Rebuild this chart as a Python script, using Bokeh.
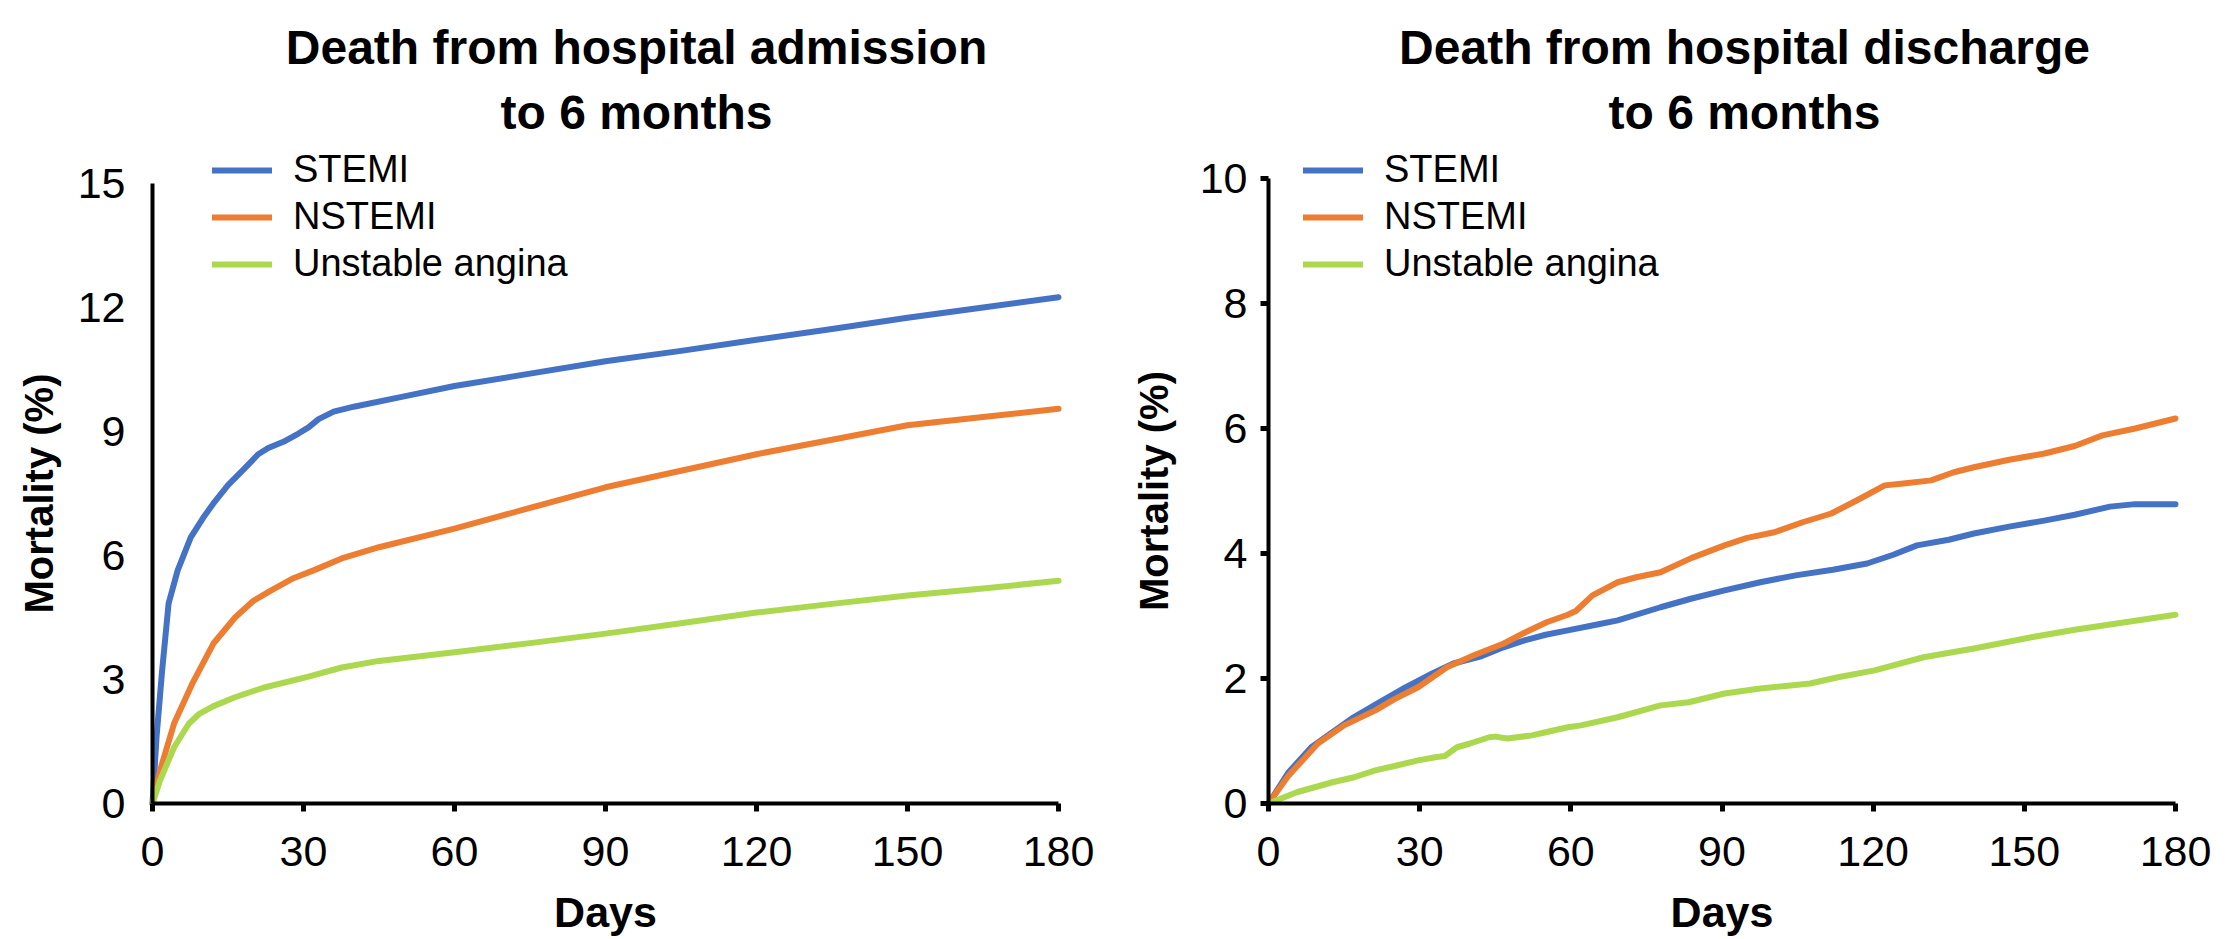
from bokeh.plotting import figure
from bokeh.models import Range1d, Legend, LegendItem, Label, FixedTicker
from bokeh.layouts import row
from bokeh.embed import file_html
from bokeh.resources import INLINE

# ---------------- data ----------------
titles_left = ["Death from hospital admission", "to 6 months"]
titles_right = ["Death from hospital discharge", "to 6 months"]
series_names = ["STEMI", "NSTEMI", "Unstable angina"]
colors = ["#4472C4", "#ED7D31", "#ACD84F"]

x_ticks = [0, 30, 60, 90, 120, 150, 180]
y_ticks_left = [0, 3, 6, 9, 12, 15]
y_ticks_right = [0, 2, 4, 6, 8, 10]

# Admission -> 6 months
adm_stemi_days = [0, 0.8, 1.9, 3.2, 5, 7.6, 10, 12.1, 15, 18.5, 21, 23, 26, 29, 31, 33, 36, 40,
                  50, 60, 75, 90, 105, 120, 135, 150, 165, 180]
adm_stemi_vals = [0, 1.6, 3.2, 4.84, 5.64, 6.44, 6.9, 7.26, 7.7, 8.13, 8.45, 8.6, 8.75, 8.95, 9.1,
                  9.3, 9.48, 9.6, 9.85, 10.1, 10.4, 10.7, 10.95, 11.22, 11.48, 11.75, 12.0, 12.25]

adm_nstemi_days = [0, 1.5, 4.3, 7.9, 12.1, 16.4, 20, 23.5, 28, 32, 37.6, 45, 60, 75, 90, 105,
                   120, 135, 150, 165, 180]
adm_nstemi_vals = [0, 0.8, 1.94, 2.9, 3.87, 4.5, 4.9, 5.15, 5.45, 5.64, 5.93, 6.2, 6.65, 7.15,
                   7.65, 8.05, 8.45, 8.8, 9.15, 9.35, 9.55]

adm_ua_days = [0, 1.5, 4.3, 7.2, 9.3, 12, 16.4, 22, 31, 37.6, 45, 60, 75, 90, 105, 120, 135,
               150, 165, 180]
adm_ua_vals = [0, 0.56, 1.36, 1.93, 2.17, 2.35, 2.57, 2.8, 3.07, 3.29, 3.45, 3.66, 3.88, 4.11,
               4.36, 4.62, 4.83, 5.03, 5.2, 5.39]

# Discharge -> 6 months
dis_stemi_days = [0, 4, 8.5, 12, 16.9, 22, 27, 32.5, 36.7, 42, 46, 50.8, 55, 59.4, 65, 69.3,
                  77.8, 84, 90.5, 97.6, 104.6, 112, 118.8, 124, 128.7, 135, 140, 147, 154.2,
                  160, 167, 172, 180]
dis_stemi_vals = [0, 0.5, 0.9, 1.1, 1.38, 1.62, 1.85, 2.08, 2.24, 2.35, 2.48, 2.61, 2.7, 2.77,
                  2.86, 2.93, 3.14, 3.28, 3.41, 3.54, 3.65, 3.74, 3.84, 3.98, 4.13, 4.22, 4.32,
                  4.43, 4.53, 4.62, 4.75, 4.79, 4.79]

dis_nstemi_days = [0, 4, 9.8, 15, 21.2, 25, 29.7, 35.4, 41, 46.7, 51, 55.2, 59.4, 61, 64.3,
                   69.3, 73, 77.8, 84, 90.5, 95, 100.4, 106, 111.7, 117, 122.3, 126, 131.5,
                   136, 140, 147, 154, 160, 165.5, 172, 180]
dis_nstemi_vals = [0, 0.45, 0.96, 1.25, 1.49, 1.67, 1.86, 2.18, 2.38, 2.56, 2.74, 2.9, 3.02,
                   3.08, 3.33, 3.54, 3.62, 3.70, 3.93, 4.13, 4.25, 4.34, 4.5, 4.64, 4.86, 5.09,
                   5.12, 5.17, 5.3, 5.38, 5.5, 5.6, 5.72, 5.89, 6.0, 6.16]

dis_ua_days = [0, 5.6, 12.7, 17, 21.2, 25, 29.7, 33.1, 35, 37.4, 40, 43.8, 45, 47.4, 52.3, 55,
               59.4, 62, 69.3, 77.8, 83.4, 90.5, 97.6, 107.5, 113, 120.3, 130, 140, 151.4, 160,
               170, 180]
dis_ua_vals = [0, 0.18, 0.34, 0.42, 0.53, 0.6, 0.69, 0.74, 0.76, 0.9, 0.96, 1.06, 1.07, 1.04,
               1.09, 1.14, 1.22, 1.25, 1.38, 1.57, 1.62, 1.76, 1.84, 1.92, 2.02, 2.13, 2.34,
               2.48, 2.66, 2.78, 2.9, 3.02]

FONT = "Liberation Sans"
W, H = 1118, 939


def make_panel(series, ymax, yticks, titles, ax_left, ax_right, ax_top, ax_bottom,
               y_ticks_out, ytick_standoff, ylab_standoff, legend_x, title_x):
    # The frame fills the whole canvas; axes sit at fixed data locations with bounds,
    # so that titles and legend (annotations) are not clipped.
    xs = 180.0 / (ax_right - ax_left)          # days per pixel
    ys = ymax / float(ax_bottom - ax_top)      # units per pixel
    x_range = Range1d(-ax_left * xs, 180 + (W - ax_right) * xs)
    y_range = Range1d(-(H - ax_bottom) * ys, ymax + ax_top * ys)

    p = figure(width=W, height=H, output_backend="svg", toolbar_location=None,
               x_range=x_range, y_range=y_range,
               min_border_left=0, min_border_right=0, min_border_top=0, min_border_bottom=0)
    p.outline_line_color = None
    p.xgrid.visible = False
    p.ygrid.visible = False
    p.background_fill_color = "white"
    p.border_fill_color = "white"

    items = []
    for (dx, dy), name, col in zip(series, series_names, colors):
        r = p.line(dx, dy, line_color=col, line_width=6, line_join="round", line_cap="round")
        items.append(LegendItem(label=name, renderers=[r]))

    legend = Legend(items=items, location=(legend_x, 652), orientation="vertical",
                    background_fill_alpha=0, border_line_color=None, padding=0, margin=0,
                    spacing=0, label_height=47, glyph_height=20, glyph_width=60,
                    label_standoff=21, label_text_font=FONT, label_text_font_size="38px",
                    label_text_color="black")
    p.add_layout(legend, "center")

    # axes
    p.xaxis.ticker = FixedTicker(ticks=x_ticks)
    p.yaxis.ticker = FixedTicker(ticks=yticks)
    p.xaxis.bounds = (0, 180)
    p.yaxis.bounds = (0, ymax)
    p.xaxis.fixed_location = 0
    p.yaxis.fixed_location = 0
    for ax in (p.xaxis, p.yaxis):
        ax.axis_line_width = 4
        ax.axis_line_color = "black"
        ax.major_tick_line_width = 5
        ax.major_tick_line_color = "black"
        ax.major_tick_in = 0
        ax.minor_tick_line_color = None
        ax.major_label_text_font = FONT
        ax.major_label_text_font_size = "43px"
        ax.major_label_text_color = "black"
        ax.axis_label_text_font = FONT
        ax.axis_label_text_font_style = "bold"
        ax.axis_label_text_color = "black"
    p.xaxis.major_tick_out = 8
    p.xaxis.major_label_standoff = 25
    p.xaxis.axis_label = "Days"
    p.xaxis.axis_label_text_font_size = "43px"
    p.xaxis.axis_label_standoff = 19
    p.yaxis.major_tick_out = y_ticks_out
    if y_ticks_out == 0:
        p.yaxis.major_tick_line_color = None
    p.yaxis.major_label_standoff = ytick_standoff
    p.yaxis.axis_label = "Mortality (%)"
    p.yaxis.axis_label_text_font_size = "40px"
    p.yaxis.axis_label_standoff = ylab_standoff

    # two-line title
    for txt, yy in zip(titles, [H - 47, H - 112]):
        p.add_layout(Label(x=title_x, y=yy, x_units="screen", y_units="screen", text=txt,
                           text_align="center", text_baseline="alphabetic",
                           text_font=FONT, text_font_style="bold", text_font_size="48px",
                           text_color="black"))
    return p


p1 = make_panel([(adm_stemi_days, adm_stemi_vals), (adm_nstemi_days, adm_nstemi_vals),
                 (adm_ua_days, adm_ua_vals)], 15, y_ticks_left, titles_left,
                152, 1058, 183, 803, 0, 27, 14, 212, 636)
p2 = make_panel([(dis_stemi_days, dis_stemi_vals), (dis_nstemi_days, dis_nstemi_vals),
                 (dis_ua_days, dis_ua_vals)], 10, y_ticks_right, titles_right,
                150, 1057, 178, 803, 8, 13, 21, 185, 626)

layout = row(p1, p2)
open("out.html", "w").write(file_html(layout, INLINE))
